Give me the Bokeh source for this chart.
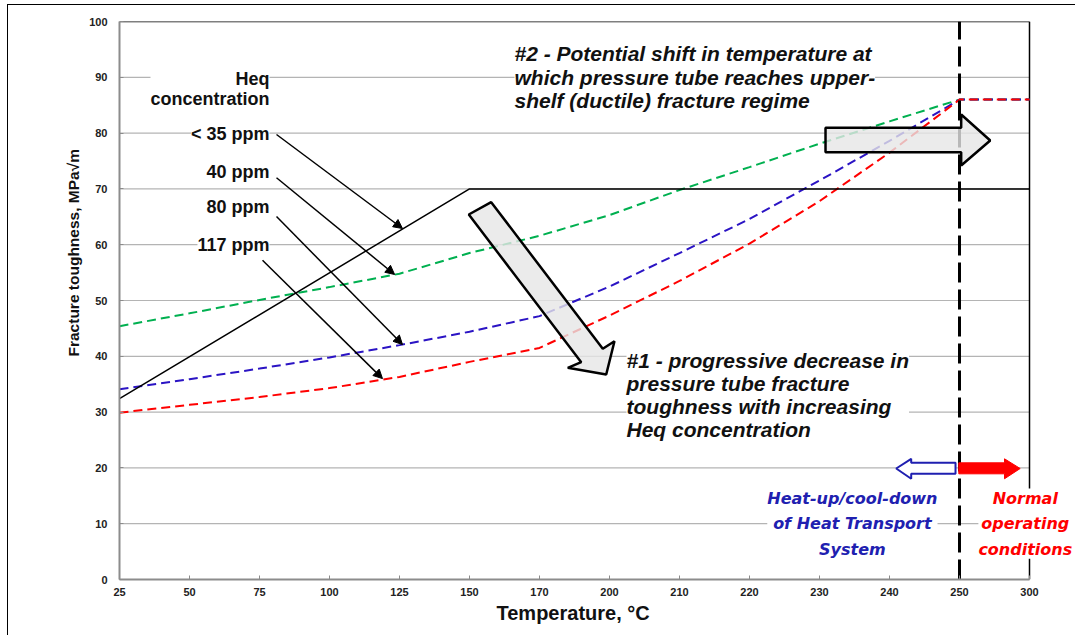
from bokeh.plotting import figure
from bokeh.models import Range1d, FixedTicker, Label, Arrow, NormalHead, Title
from bokeh.embed import file_html
from bokeh.resources import INLINE

# ---- data ----
temps = [25, 50, 75, 100, 125, 150, 170, 200, 210, 220, 230, 240, 250, 300]
ppm40 = [45.4, 47.7, 50.1, 52.4, 54.8, 58.5, 61.6, 65.3, 69.8, 73.9, 78.1, 82.1, 86.0, 86.0]
ppm80 = [34.1, 35.9, 37.8, 39.8, 42.0, 44.4, 47.2, 52.5, 58.5, 64.6, 71.5, 78.6, 86.0, 86.0]
ppm117 = [29.9, 31.3, 32.7, 34.3, 36.3, 39.0, 41.5, 47.3, 53.5, 60.2, 67.8, 76.5, 86.0, 86.0]
below35_temps = [25, 150, 300]
below35 = [32.4, 70.0, 70.0]
y_ticks = [0, 10, 20, 30, 40, 50, 60, 70, 80, 90, 100]
limit_temp = 250

def xi(t):
    return temps.index(t)

FONT = "Liberation Sans"
last = len(temps) - 1

# frame extends a bit past the last category so right-hand texts are not clipped
p = figure(width=1068, height=631, output_backend="svg", toolbar_location=None,
           x_range=Range1d(0, last + 47 / 70), y_range=Range1d(0, 100),
           min_border_left=111, min_border_right=0, min_border_top=16, min_border_bottom=57)
p.styles = {"border-left": "1px solid #000", "border-top": "1px solid #000",
            "margin-left": "7px", "margin-top": "4px"}
p.background_fill_color = "white"
p.outline_line_color = None

# axes
p.xaxis.ticker = FixedTicker(ticks=list(range(len(temps))))
p.xaxis.major_label_overrides = {i: str(t) for i, t in enumerate(temps)}
p.xaxis.bounds = (0, last)
p.yaxis.ticker = FixedTicker(ticks=y_ticks)
for ax in (p.xaxis[0], p.yaxis[0]):
    ax.axis_line_color = "#8c8c8c"
    ax.axis_line_width = 2
    ax.major_tick_line_color = "#8c8c8c"
    ax.major_tick_in = 4
    ax.major_tick_out = 0
    ax.minor_tick_line_color = None
    ax.major_label_text_font = FONT
    ax.major_label_text_font_style = "bold"
    ax.major_label_text_font_size = "11px"
    ax.major_label_text_color = "#222222"
p.xaxis.major_label_standoff = 8
p.yaxis.major_label_standoff = 12

# axis titles (placed as side titles so they can be offset like the original)
p.add_layout(Title(text="Temperature, °C", align="left", offset=377, standoff=3,
                   text_font=FONT, text_font_style="bold", text_font_size="20px",
                   text_color="#111111"), "below")
p.add_layout(Title(text="Fracture toughness, MPa√m", align="left", offset=223, standoff=9,
                   text_font=FONT, text_font_style="bold", text_font_size="15.5px",
                   text_color="#111111"), "left")

# horizontal gridlines limited to the category span
p.xgrid.grid_line_color = None
p.ygrid.grid_line_color = None
grid_y = y_ticks[1:-1]
p.segment(x0=[0] * len(grid_y), x1=[last] * len(grid_y), y0=grid_y, y1=grid_y,
          line_color="#b4b4b4", line_width=1.2)
# plot-area frame: top and right
p.line([0, last], [y_ticks[-1], y_ticks[-1]], line_color="black", line_width=1.5)
p.line([last, last], [y_ticks[0], y_ticks[-1]], line_color="black", line_width=1.5)

# series
xs = list(range(len(temps)))
p.line(xs, ppm40, line_color="#00b050", line_width=2, line_dash="9 5")
p.line(xs, ppm80, line_color="#2b14c4", line_width=2, line_dash="9 5")
p.line(xs, ppm117, line_color="#ff0000", line_width=2, line_dash="9 5")
p.line([xi(t) for t in below35_temps], below35, line_color="black", line_width=1.5)

# vertical dashed line at 250
p.line([xi(limit_temp), xi(limit_temp)], [y_ticks[0], y_ticks[-1]],
       line_color="black", line_width=3, line_dash="20 7")

# big block arrows (annotation shapes)
p.patch([4.99, 5.31, 6.904, 7.071, 6.953, 6.404, 6.596],
        [65.41, 67.62, 41.34, 42.71, 36.74, 37.94, 38.94],
        fill_color="#e6e6e6", fill_alpha=0.8, line_color="black", line_width=2.5)
p.patch([10.086, 12.024, 12.024, 12.439, 12.024, 12.024, 10.086],
        [80.95, 80.95, 83.33, 78.67, 74.19, 76.58, 76.58],
        fill_color="#e6e6e6", fill_alpha=0.8, line_color="black", line_width=2.5)

# small arrows near bottom
p.patch([11.096, 11.31, 11.31, 11.943, 11.943, 11.31, 11.31],
        [19.89, 21.63, 20.91, 20.91, 18.94, 18.94, 18.05],
        fill_color="white", line_color="#1f1fb0", line_width=2)
p.patch([11.99, 12.643, 12.643, 12.867, 12.643, 12.643, 11.99],
        [20.91, 20.91, 21.63, 19.89, 18.05, 18.94, 18.94],
        fill_color="#ff0000", line_color="#ff0000", line_width=1)

# pointer arrows
for (x0, y0, x1, y1) in [(2.243, 79.75, 4.043, 62.9),
                         (2.243, 72.0, 3.93, 54.66),
                         (2.243, 65.05, 4.043, 42.1),
                         (2.043, 57.2, 3.757, 36.0)]:
    p.add_layout(Arrow(x_start=x0, y_start=y0, x_end=x1, y_end=y1,
                       line_color="black", line_width=1.5,
                       end=NormalHead(size=9, fill_color="black", line_color="black")))

def lab(text, x, y, align="left", baseline="top", size="18px", color="#111111",
        style="bold", font=FONT, lh=1.0, bg="white"):
    p.add_layout(Label(x=x, y=y, text=text, text_align=align, text_baseline=baseline,
                       text_font_size=size, text_color=color, text_font_style=style,
                       text_font=font, text_line_height=lh,
                       background_fill_color=bg, background_fill_alpha=1.0 if bg else 0))

lab("Heq\nconcentration", 2.143, 91.4, align="right", lh=1.0)
lab("< 35 ppm", 2.143, 79.75, align="right", baseline="middle")
lab("40 ppm", 2.143, 73.1, align="right", baseline="middle")
lab("80 ppm", 2.143, 66.67, align="right", baseline="middle")
lab("117 ppm", 2.143, 59.86, align="right", baseline="middle")

lab("#2 - Potential shift in temperature at\nwhich pressure tube reaches upper-\nshelf (ductile) fracture regime",
    5.643, 96.3, size="21px", style="bold italic", lh=1.02)
lab("#1 - progressive decrease in\npressure tube fracture\ntoughness with increasing\nHeq concentration",
    7.243, 41.3, size="21px", style="bold italic", lh=1.0)
lab("Heat-up/cool-down\nof Heat Transport\nSystem", 10.47, 16.3, align="center",
    size="16px", style="bold italic", color="#2020b0", font="DejaVu Sans", lh=1.35)
lab("Normal\noperating\nconditions", 12.94, 16.3, align="center",
    size="16px", style="bold italic", color="#ff0000", font="DejaVu Sans", lh=1.35)

open("out.html", "w").write(file_html(p, INLINE))
